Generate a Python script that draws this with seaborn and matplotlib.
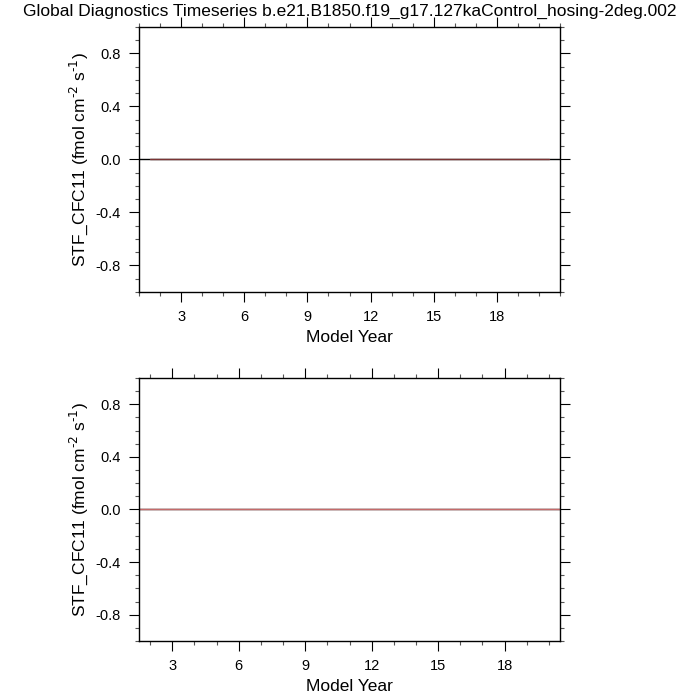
import numpy as np
import pandas as pd
import matplotlib
matplotlib.use("Agg")
import matplotlib.pyplot as plt
import seaborn as sns
from matplotlib.ticker import MultipleLocator, FixedLocator, FormatStrFormatter

# Annual-mean global STF_CFC11 (all zero for this run)
years = [1.5, 2.5, 3.5, 4.5, 5.5, 6.5, 7.5, 8.5, 9.5, 10.5,
         11.5, 12.5, 13.5, 14.5, 15.5, 16.5, 17.5, 18.5, 19.5, 20.5]
stf_top = [0.0] * 20
stf_bottom = [0.0] * 20

x_ticks = [3, 6, 9, 12, 15, 18]
y_ticks = [-0.8, -0.4, 0.0, 0.4, 0.8]

title = "Global Diagnostics Timeseries b.e21.B1850.f19_g17.127kaControl_hosing-2deg.002"
ylabel = r"STF_CFC11 (fmol cm$^{\text{-}2}$ s$^{\text{-}1}$)"

sns.set_style("ticks")
plt.rcParams["font.family"] = ["Liberation Sans", "DejaVu Sans"]
plt.rcParams["axes.unicode_minus"] = False
plt.rcParams["text.color"] = "black"
plt.rcParams["axes.labelcolor"] = "black"
plt.rcParams["xtick.color"] = "black"
plt.rcParams["ytick.color"] = "black"

fig = plt.figure(figsize=(7, 7), dpi=100)
ax1 = fig.add_axes([0.1986, 0.5829, 0.6014, 0.3786])
ax2 = fig.add_axes([0.1986, 0.0843, 0.6014, 0.3757])

df_top = pd.DataFrame({"year": years, "val": stf_top})
df_bot = pd.DataFrame({"year": years, "val": stf_bottom})

panels = [(ax1, df_top, "#7b3434", (1, 21)), (ax2, df_bot, "#c56a6a", (1.5, 20.5))]
for ax, df, col, xl in panels:
    ax.axhline(0, color="black", lw=1.0, zorder=1)
    sns.lineplot(data=df, x="year", y="val", ax=ax, color=col, lw=1.0, zorder=2)
    ax.set_xlim(*xl)
    ax.set_ylim(-1, 1)
    ax.xaxis.set_major_locator(FixedLocator(x_ticks))
    ax.xaxis.set_minor_locator(MultipleLocator(1))
    ax.yaxis.set_major_locator(FixedLocator(y_ticks))
    ax.yaxis.set_minor_locator(MultipleLocator(0.1))
    ax.yaxis.set_major_formatter(FormatStrFormatter("%.1f"))
    ax.tick_params(which="both", top=True, right=True, direction="out",
                   colors="black", labelsize=10.5, width=0.8)
    ax.tick_params(which="major", length=7, pad=6)
    ax.tick_params(which="minor", length=3, color="#555555")
    for s in ax.spines.values():
        s.set_linewidth(1.0)
        s.set_color("black")
    ax.set_xlabel("Model Year", fontsize=12.5)
    ax.set_ylabel(ylabel, fontsize=12.5, labelpad=4)

fig.suptitle(title, fontsize=12.5, y=0.995, va="top")

fig.savefig("out.png", dpi=100)
